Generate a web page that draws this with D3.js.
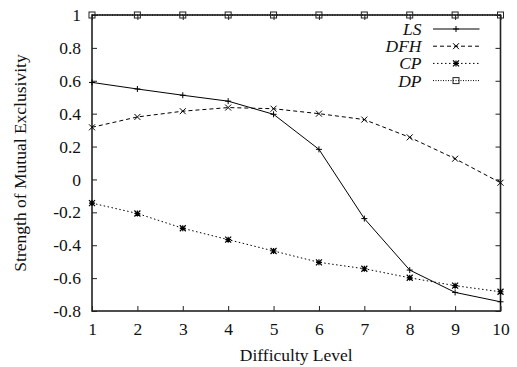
<!DOCTYPE html>
<html>
<head>
<meta charset="utf-8">
<script src="https://cdn.jsdelivr.net/npm/d3@7"></script>
<style>
  html, body { margin: 0; padding: 0; background: #fff; }
  svg { display: block; font-family: "Liberation Serif", "DejaVu Serif", serif; }
</style>
</head>
<body>
<svg id="chart" width="517" height="367"></svg>
<script>
// Difficulty levels on the x axis
const levels = [1, 2, 3, 4, 5, 6, 7, 8, 9, 10];

// Strength of mutual exclusivity per method
const lsValues  = [0.59, 0.55, 0.512, 0.476, 0.396, 0.183, -0.238, -0.551, -0.687, -0.744];
const dfhValues = [0.317, 0.38, 0.415, 0.437, 0.43, 0.40, 0.364, 0.256, 0.126, -0.02];
const cpValues  = [-0.144, -0.207, -0.297, -0.366, -0.435, -0.504, -0.543, -0.598, -0.646, -0.683];
const dpValues  = [1, 1, 1, 1, 1, 1, 1, 1, 1, 1];

const seriesNames = ["LS", "DFH", "CP", "DP"];
const yTicks = [-0.8, -0.6, -0.4, -0.2, 0, 0.2, 0.4, 0.6, 0.8, 1];

const series = [
  { name: seriesNames[0], values: lsValues,  dash: null,  marker: "plus" },
  { name: seriesNames[1], values: dfhValues, dash: "4,3", marker: "cross" },
  { name: seriesNames[2], values: cpValues,  dash: "1.5,2.5", marker: "star" },
  { name: seriesNames[3], values: dpValues,  dash: "1,1.5", marker: "square" }
];

const svg = d3.select("#chart");
const box = { left: 92, right: 500.5, top: 15, bottom: 311 };

const x = d3.scaleLinear().domain([1, 10]).range([box.left, box.right]);
const y = d3.scaleLinear().domain([-0.8, 1]).range([box.bottom, box.top]);

const axisColor = "#222";
const fontSize = 17.5;
const serif = "'Liberation Serif', 'DejaVu Serif', serif";

// Axes: ticks point inward, mirrored on the opposite side
const fmt = d => (d === 0 ? "0" : String(+d.toFixed(1)));

const yAxis = svg.append("g")
  .attr("transform", `translate(${box.left},0)`)
  .call(d3.axisLeft(y).tickValues(yTicks).tickSize(-5).tickPadding(11).tickFormat(fmt));
const yAxisR = svg.append("g")
  .attr("transform", `translate(${box.right},0)`)
  .call(d3.axisRight(y).tickValues(yTicks).tickSize(-5).tickFormat(""));
const xAxis = svg.append("g")
  .attr("transform", `translate(0,${box.bottom})`)
  .call(d3.axisBottom(x).tickValues(levels).tickSize(-5).tickPadding(12).tickFormat(d3.format("d")));
const xAxisT = svg.append("g")
  .attr("transform", `translate(0,${box.top})`)
  .call(d3.axisTop(x).tickValues(levels).tickSize(-5).tickFormat(""));

[yAxis, yAxisR, xAxis, xAxisT].forEach(g => {
  g.attr("font-family", null).attr("font-size", null);
  g.select(".domain").remove();
  g.selectAll(".tick line").attr("stroke", axisColor).attr("stroke-width", 1);
  g.selectAll(".tick text")
    .attr("fill", "#111")
    .style("font-family", serif)
    .style("font-size", fontSize + "px");
});

// Plot frame
svg.append("rect")
  .attr("x", box.left).attr("y", box.top)
  .attr("width", box.right - box.left).attr("height", box.bottom - box.top)
  .attr("fill", "none").attr("stroke", axisColor).attr("stroke-width", 1.6);

// Axis titles
svg.append("text")
  .attr("x", (box.left + box.right) / 2).attr("y", 361)
  .attr("text-anchor", "middle")
  .style("font-family", serif)
  .style("font-size", fontSize + "px").attr("fill", "#111")
  .text("Difficulty Level");

svg.append("text")
  .attr("transform", `translate(26,${(box.top + box.bottom) / 2}) rotate(-90)`)
  .attr("text-anchor", "middle")
  .style("font-family", serif)
  .style("font-size", fontSize + "px").attr("fill", "#111")
  .text("Strength of Mutual Exclusivity");

// Point markers
function drawMarker(g, type, cx, cy) {
  const s = 3;
  if (type === "plus") {
    g.append("path").attr("d", `M${cx - s},${cy}H${cx + s}M${cx},${cy - s}V${cy + s}`)
      .attr("stroke", "#000").attr("stroke-width", 1);
  } else if (type === "cross") {
    g.append("path").attr("d", `M${cx - s},${cy - s}L${cx + s},${cy + s}M${cx - s},${cy + s}L${cx + s},${cy - s}`)
      .attr("stroke", "#000").attr("stroke-width", 1);
  } else if (type === "star") {
    g.append("path").attr("d",
      `M${cx - s},${cy - s}L${cx + s},${cy + s}M${cx - s},${cy + s}L${cx + s},${cy - s}M${cx - s},${cy}H${cx + s}M${cx},${cy - s}V${cy + s}`)
      .attr("stroke", "#000").attr("stroke-width", 1.2);
  } else if (type === "square") {
    g.append("rect").attr("x", cx - s).attr("y", cy - s).attr("width", 2 * s).attr("height", 2 * s)
      .attr("fill", "none").attr("stroke", "#222").attr("stroke-width", 1);
  }
}

const line = d3.line().x((d, i) => x(levels[i])).y(d => y(d));

const plot = svg.append("g");
series.forEach(s => {
  plot.append("path")
    .datum(s.values)
    .attr("d", line)
    .attr("fill", "none")
    .attr("stroke", "#000")
    .attr("stroke-width", 1)
    .attr("stroke-dasharray", s.dash);
  const mg = plot.append("g");
  s.values.forEach((v, i) => drawMarker(mg, s.marker, x(levels[i]), y(v)));
});

// Legend
const legend = svg.append("g");
series.forEach((s, i) => {
  const ly = 29 + i * 17.2;
  legend.append("text")
    .attr("x", 421.5).attr("y", ly + 6)
    .attr("text-anchor", "end")
    .style("font-family", serif)
    .style("font-style", "italic")
    .style("font-size", fontSize + "px").attr("fill", "#111")
    .text(s.name);
  legend.append("line")
    .attr("x1", 433).attr("x2", 479.5).attr("y1", ly).attr("y2", ly)
    .attr("stroke", "#000").attr("stroke-width", 1)
    .attr("stroke-dasharray", s.dash);
  drawMarker(legend, s.marker, 456, ly);
});
</script>
</body>
</html>
